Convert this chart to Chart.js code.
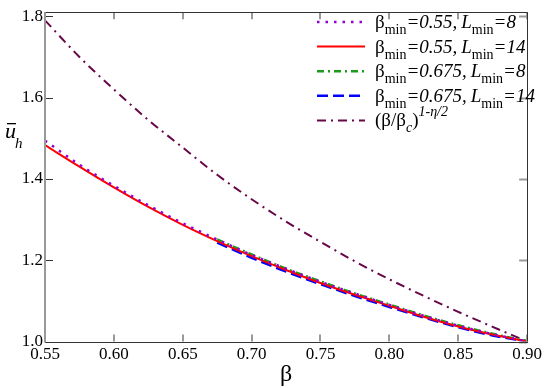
<!DOCTYPE html>
<html>
<head>
<meta charset="utf-8">
<script src="https://cdn.jsdelivr.net/npm/chart.js@4.4.0/dist/chart.umd.min.js"></script>
</head>
<body style="margin:0">
<canvas id="warm" width="1" height="1" style="position:absolute;left:0;top:0"></canvas>
<div style="width:545px;height:388px"><canvas id="chart"></canvas></div>
<script>
// beta grid for the beta_min = 0.55 runs and the power law
const betaA = [0.55, 0.575, 0.60, 0.625, 0.65, 0.675, 0.70, 0.725, 0.75, 0.775, 0.80, 0.825, 0.85, 0.875, 0.90];
const uPurple = [1.494, 1.435, 1.383, 1.335, 1.291, 1.251, 1.213, 1.179, 1.147, 1.118, 1.090, 1.063, 1.039, 1.018, 1.000];
const uRed = [1.483, 1.430, 1.379, 1.331, 1.287, 1.247, 1.210, 1.176, 1.144, 1.115, 1.088, 1.061, 1.037, 1.017, 1.000];
const uPower = [1.790, 1.700, 1.620, 1.545, 1.477, 1.410, 1.350, 1.295, 1.245, 1.197, 1.153, 1.112, 1.073, 1.036, 1.000];

// beta_min = 0.675 runs
const betaB = [0.675, 0.70, 0.725, 0.75, 0.775, 0.80, 0.825, 0.85, 0.875, 0.90];
const uGreen = [1.251, 1.214, 1.179, 1.148, 1.118, 1.091, 1.064, 1.040, 1.019, 1.001];
const uBlue = [1.243, 1.206, 1.172, 1.141, 1.112, 1.085, 1.059, 1.035, 1.015, 1.000];

const xTicks = [0.55, 0.60, 0.65, 0.70, 0.75, 0.80, 0.85, 0.90];
const yTicks = [1.0, 1.2, 1.4, 1.6, 1.8];

function pts(xs, ys) {
  return xs.map((x, i) => ({ x: x, y: ys[i] }));
}

const legendRows = [
  { color: '#9400d3', dash: [2.5, 6], width: 2.5, beta: '0.55,', L: '8', lx: 460 },
  { color: '#ff0000', dash: [], width: 2, beta: '0.55,', L: '14', lx: 460 },
  { color: '#1e9a1e', dash: [7, 4, 2, 4], width: 2.5, beta: '0.675,', L: '8', lx: 0 },
  { color: '#0000ff', dash: [11, 5], width: 2.5, beta: '0.675,', L: '14', lx: 0 },
  { color: '#670748', dash: [9, 5, 2, 5], width: 2, power: true }
];

// warm up the serif faces on a plain canvas first
const wc = document.getElementById('warm').getContext('2d');
wc.font = '18px "Liberation Serif"';
wc.fillText('0.55 1.8 β', 0, 10);
wc.font = 'italic 18px "Liberation Serif"';
wc.fillText('Lmin 0.675 η', 0, 10);

function drawParts(ctx, x, y, parts) {
  parts.forEach(p => {
    ctx.font = p.font;
    ctx.fillText(p.t, x, y + (p.dy || 0));
    x += ctx.measureText(p.t).width;
  });
  return x;
}

const decor = {
  id: 'decor',
  afterDatasetsDraw(chart) {
    const ctx = chart.ctx;
    const a = chart.chartArea;
    const xs = chart.scales.x, ys = chart.scales.y;
    ctx.save();
    ctx.setLineDash([]);

    // ticks (inward)
    ctx.lineWidth = 2;
    ctx.strokeStyle = '#999';
    xTicks.forEach(v => {
      const px = Math.round(xs.getPixelForValue(v));
      ctx.beginPath();
      ctx.moveTo(px, a.bottom); ctx.lineTo(px, a.bottom - 7);
      ctx.moveTo(px, a.top); ctx.lineTo(px, a.top + 7);
      ctx.stroke();
    });
    yTicks.forEach(v => {
      const py = Math.round(ys.getPixelForValue(v)) + 0.5;
      ctx.lineWidth = 1;
      ctx.strokeStyle = '#333';
      ctx.beginPath();
      ctx.moveTo(a.left, py); ctx.lineTo(a.left + 8, py);
      ctx.stroke();
      ctx.lineWidth = 2;
      ctx.strokeStyle = '#999';
      ctx.beginPath();
      ctx.moveTo(a.right, py); ctx.lineTo(a.right - 8, py);
      ctx.stroke();
    });

    // frame
    ctx.lineWidth = 1;
    ctx.strokeStyle = '#333';
    ctx.beginPath();
    ctx.moveTo(a.left, Math.round(a.top) + 0.5); ctx.lineTo(a.right, Math.round(a.top) + 0.5);
    ctx.moveTo(Math.round(a.right) + 0.5, a.top); ctx.lineTo(Math.round(a.right) + 0.5, a.bottom);
    ctx.moveTo(a.left, Math.round(a.bottom) + 0.5); ctx.lineTo(a.right + 1, Math.round(a.bottom) + 0.5);
    ctx.stroke();
    ctx.lineWidth = 2;
    ctx.strokeStyle = '#999';
    ctx.beginPath();
    ctx.moveTo(Math.round(a.left), a.top); ctx.lineTo(Math.round(a.left), a.bottom + 1);
    ctx.stroke();

    // axis titles
    ctx.fillStyle = '#000';
    ctx.textBaseline = 'alphabetic';
    ctx.textAlign = 'center';
    ctx.font = '24px "Liberation Serif"';
    ctx.fillText('β', (a.left + a.right) / 2, 381);
    ctx.textAlign = 'left';
    ctx.font = 'italic 22px "Liberation Serif"';
    ctx.fillText('u', 5, 138);
    ctx.fillRect(7, 123, 9, 1.3);
    ctx.font = 'italic 15px "Liberation Serif"';
    ctx.fillText('h', 15, 148);

    // legend
    legendRows.forEach((r, i) => {
      const cy = 22 + i * 24.6;
      ctx.strokeStyle = r.color;
      ctx.lineWidth = r.width;
      ctx.setLineDash(r.dash);
      ctx.beginPath();
      ctx.moveTo(317, cy); ctx.lineTo(365, cy);
      ctx.stroke();
      ctx.setLineDash([]);
      ctx.fillStyle = '#000';
      const base = cy + 6;
      const big = '19px "Liberation Serif"', bigI = 'italic 19px "Liberation Serif"';
      const sub = '14px "Liberation Serif"', subI = 'italic 14px "Liberation Serif"';
      if (r.power) {
        let x = drawParts(ctx, 375, base, [
          { t: '(β/β', font: big },
          { t: 'c', font: subI, dy: 6 },
          { t: ')', font: big }
        ]);
        drawParts(ctx, x, base, [{ t: '1-η/2', font: subI, dy: -10 }]);
      } else {
        let x = drawParts(ctx, 375, base, [
          { t: 'β', font: big },
          { t: 'min', font: sub, dy: 6 },
          { t: '=' + r.beta, font: bigI }
        ]);
        drawParts(ctx, Math.max(r.lx, x + 4), base, [
          { t: 'L', font: bigI },
          { t: 'min', font: sub, dy: 6 },
          { t: '=' + r.L, font: bigI }
        ]);
      }
    });
    ctx.restore();
  }
};

new Chart(document.getElementById('chart'), {
  type: 'line',
  data: {
    datasets: [
      { data: pts(betaA, uPurple), borderColor: '#9400d3', borderWidth: 2.5, borderDash: [2.5, 6] },
      { data: pts(betaA, uRed), borderColor: '#ff0000', borderWidth: 2 },
      { data: pts(betaB, uGreen), borderColor: '#1e9a1e', borderWidth: 2.5, borderDash: [7, 4, 2, 4] },
      { data: pts(betaB, uBlue), borderColor: '#0000ff', borderWidth: 2.5, borderDash: [11, 5] },
      { data: pts(betaA, uPower), borderColor: '#670748', borderWidth: 2, borderDash: [9, 5, 2, 5] }
    ]
  },
  options: {
    animation: false,
    maintainAspectRatio: false,
    elements: { point: { radius: 0 }, line: { cubicInterpolationMode: 'monotone', fill: false } },
    layout: { padding: { top: 3, right: 15, left: 0, bottom: 0 } },
    plugins: { legend: { display: false }, tooltip: { enabled: false } },
    scales: {
      x: {
        type: 'linear',
        min: 0.55,
        max: 0.90,
        grid: { display: false, drawTicks: false },
        border: { display: false },
        afterBuildTicks: s => { s.ticks = xTicks.map(v => ({ value: v })); },
        afterFit: s => { s.height = 46.5; },
        ticks: {
          padding: 3,
          maxRotation: 0,
          autoSkip: false,
          color: '#000',
          font: { family: '"Liberation Serif"', size: 17 },
          callback: v => Number(v).toFixed(2)
        }
      },
      y: {
        type: 'linear',
        min: 1.0,
        max: 1.81,
        grid: { display: false, drawTicks: false },
        border: { display: false },
        afterBuildTicks: s => { s.ticks = yTicks.map(v => ({ value: v })); },
        afterFit: s => { s.width = 45; },
        ticks: {
          padding: 2,
          color: '#000',
          font: { family: '"Liberation Serif"', size: 17 },
          callback: v => Number(v).toFixed(1)
        }
      }
    }
  },
  plugins: [decor]
});
</script>
</body>
</html>
